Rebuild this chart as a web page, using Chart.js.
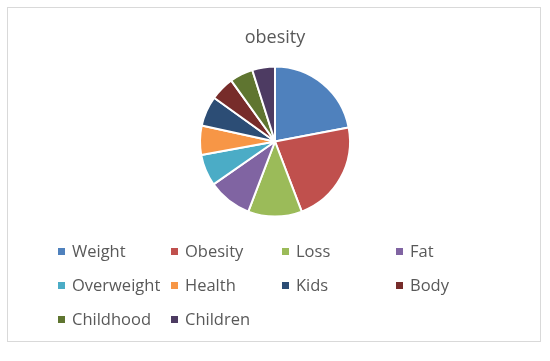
<!DOCTYPE html>
<html>
<head>
<meta charset="utf-8">
<script src="https://cdn.jsdelivr.net/npm/chart.js@4"></script>
<style>
  html, body { margin: 0; padding: 0; background: #fff; }
  #wrap { position: relative; width: 550px; height: 361px; overflow: hidden; }
  #frame { position: absolute; left: 7px; top: 7px; width: 534px; height: 335px; border: 1px solid #d9d9d9; box-sizing: border-box; }
  #c { position: absolute; left: 0; top: 0; }
  #title { position: absolute; left: 0; width: 550px; top: 24px; text-align: center; font-family: "Open Sans", sans-serif; font-size: 18px; color: #595959; line-height: 24px; }
  .item { position: absolute; font-family: "Open Sans", sans-serif; font-size: 16.5px; color: #595959; line-height: 20px; white-space: nowrap; }
  .box { position: absolute; width: 7px; height: 7px; }
</style>
</head>
<body>
<div id="wrap">
  <div id="frame"></div>
  <canvas id="c" width="550" height="361"></canvas>
  <div id="title"></div>
  <div id="legend"></div>
</div>
<script>
const chartTitle = "obesity";
const categories = ["Weight", "Obesity", "Loss", "Fat", "Overweight", "Health", "Kids", "Body", "Childhood", "Children"];
const values = [22.0, 22.2, 11.6, 9.5, 6.8, 6.3, 6.5, 5.2, 5.0, 4.9];
const colors = ["#4F81BD", "#C0504D", "#9BBB59", "#8064A2", "#4BACC6", "#F79646", "#2C4D75", "#772C2A", "#5F7530", "#4D3B62"];

document.getElementById('title').textContent = chartTitle;

const chart = new Chart(document.getElementById('c'), {
  type: 'pie',
  data: {
    labels: categories,
    datasets: [{
      data: values,
      backgroundColor: colors,
      borderColor: '#ffffff',
      borderWidth: 2
    }]
  },
  options: {
    responsive: false,
    animation: false,
    layout: { padding: { left: 199, right: 199, top: 65.5, bottom: 143.5 } },
    plugins: {
      legend: { display: false },
      tooltip: { enabled: false },
      title: { display: false }
    }
  }
});

// HTML legend in a 4-column grid, built from the chart's own legend labels
const legend = document.getElementById('legend');
const labels = chart.options.plugins.legend.labels.generateLabels(chart);
const colX = [58, 171, 282, 396];
const rowY = [252, 286, 320];
labels.forEach((l, i) => {
  const col = i % 4, row = Math.floor(i / 4);
  const box = document.createElement('div');
  box.className = 'box';
  box.style.left = colX[col] + 'px';
  box.style.top = (rowY[row] - 4) + 'px';
  box.style.background = l.fillStyle;
  legend.appendChild(box);
  const t = document.createElement('div');
  t.className = 'item';
  t.textContent = l.text;
  t.style.left = (colX[col] + 14) + 'px';
  t.style.top = (rowY[row] - 11) + 'px';
  legend.appendChild(t);
});
</script>
</body>
</html>
